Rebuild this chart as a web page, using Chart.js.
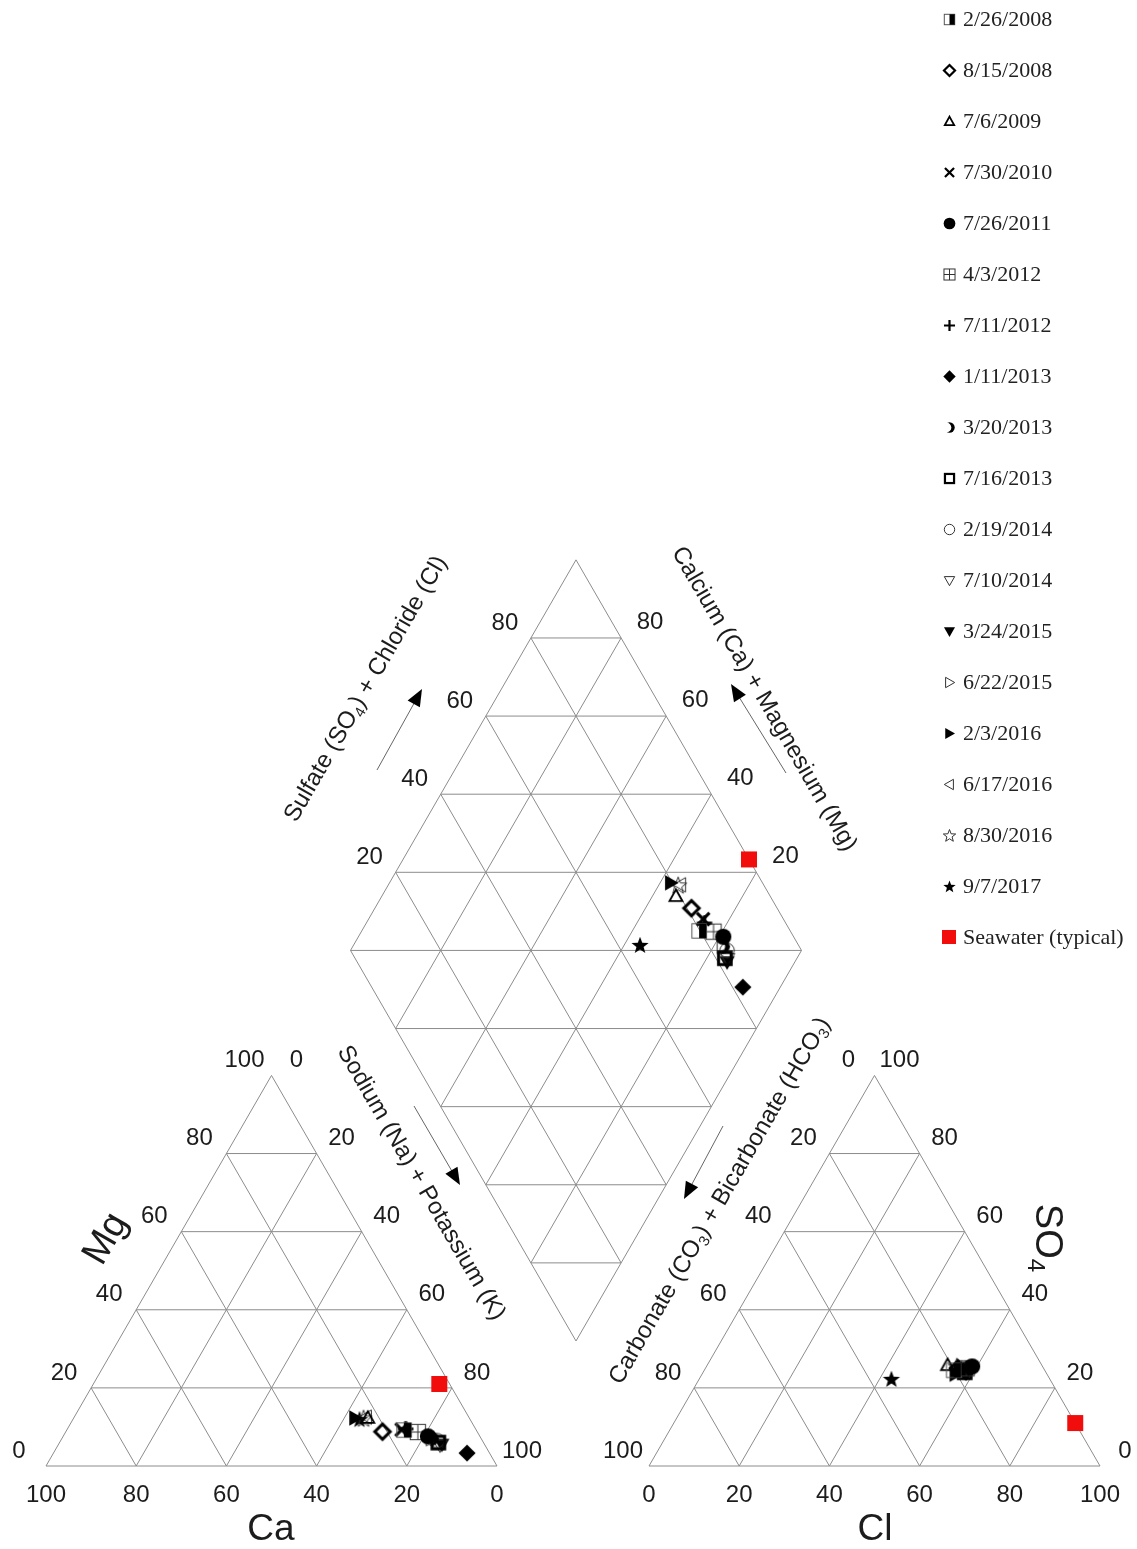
<!DOCTYPE html>
<html>
<head>
<meta charset="utf-8">
<title>Piper diagram</title>
<script src="https://cdn.jsdelivr.net/npm/chart.js@4.4.1/dist/chart.umd.min.js"></script>
<style>
  html, body { margin: 0; padding: 0; background: #fff; }
  #wrap { position: relative; width: 1137px; height: 1549px; overflow: hidden; }
  #piper { position: absolute; left: 0; top: 0; }
  #legend { position: absolute; left: 0; top: 0; font-family: "Liberation Serif", "Times New Roman", serif; font-size: 22px; color: #222; }
  .item { position: absolute; left: 940px; height: 26px; line-height: 26px; white-space: nowrap; }
  .item canvas { position: absolute; left: 0; top: 4px; }
  .item span { position: absolute; left: 23px; top: 0; }
</style>
</head>
<body>
<div id="wrap">
  <canvas id="piper" width="1137" height="1549"></canvas>
  <div id="legend"></div>
</div>
<script>
// sampling dates, legend order
const dates = ['2/26/2008', '8/15/2008', '7/6/2009', '7/30/2010', '7/26/2011', '4/3/2012', '7/11/2012',
  '1/11/2013', '3/20/2013', '7/16/2013', '2/19/2014', '7/10/2014', '3/24/2015', '6/22/2015',
  '2/3/2016', '6/17/2016', '8/30/2016', '9/7/2017', 'Seawater (typical)'];
const markers = ['halfSquare', 'diamondOpen', 'triangleOpen', 'cross', 'circle', 'gridSquare', 'plus',
  'diamond', 'crescent', 'squareOpen', 'circleOpen', 'triangleDownOpen', 'triangleDown', 'triangleRightOpen',
  'triangleRight', 'triangleLeftOpen', 'starOpen', 'star', 'square'];

// % of total cations / anions (Na+K and CO3+HCO3 are the remainder)
const calcium   = [16.0, 21.0, 22.5, 16.5, 11.5, 13.2, 15.5, 5.0, 11.0, 10.0, 10.0, 10.0, 9.5, 11.0, 25.3, 22.8, 23.5, 24.5, 2.3];
const magnesium = [9.2, 8.8, 12.3, 9.3, 7.6, 8.7, 9.5, 3.3, 7.0, 6.0, 6.5, 5.3, 5.5, 7.0, 12.3, 12.5, 12.2, 12.0, 21.0];
const sulfate   = [24.5, 25.0, 25.8, 25.0, 25.5, 25.0, 24.5, 24.0, 25.0, 24.0, 25.0, 24.5, 24.0, 25.0, 23.5, 25.0, 25.5, 22.3, 11.0];
const chloride  = [55.3, 56.0, 53.3, 57.2, 58.9, 57.9, 57.5, 58.3, 58.0, 58.0, 58.5, 58.0, 58.0, 58.0, 56.2, 56.5, 55.5, 42.6, 89.0];

const gridSteps = [20, 40, 60, 80];
const tickValues = [0, 20, 40, 60, 80, 100];

// layout: 100 % along a side = 451 px
const H = Math.sqrt(3) / 2;
const PX = 4.51;
const ORIGIN_X = 46, ORIGIN_Y = 1466;
const ANION_X0 = (649 - ORIGIN_X) / PX;
const DIA_X0 = (576 - ORIGIN_X) / PX, DIA_Y0 = (ORIGIN_Y - 1341) / PX;

const SANS = '"Liberation Sans", Arial, Helvetica, sans-serif';
const INK = '#1c1c1c';
const GRID = '#8c8c8c';

const catPt = (ca, mg) => ({ x: 100 - ca - mg / 2, y: mg * H });
const aniPt = (so4, cl) => ({ x: ANION_X0 + cl + so4 / 2, y: so4 * H });
const diaPt = (p, q) => ({ x: DIA_X0 + (p - q) / 2, y: DIA_Y0 + (p + q) * H });

function makeMarker(kind, size) {
  const n = Math.ceil(size) + 6;
  const c = document.createElement('canvas');
  c.width = n; c.height = n;
  const g = c.getContext('2d');
  const m = n / 2, r = size / 2;
  const thick = Math.max(2, size * 0.17);
  g.strokeStyle = '#000'; g.fillStyle = '#000'; g.lineWidth = thick;
  const path = pts => {
    g.beginPath();
    pts.forEach(([a, b], k) => (k ? g.lineTo : g.moveTo).call(g, m + a * r, m + b * r));
    g.closePath();
  };
  const thin = () => { g.lineWidth = 1; g.strokeStyle = '#333'; };
  const star = [];
  for (let k = 0; k < 10; k++) {
    const a = -Math.PI / 2 + k * Math.PI / 5, rr = k % 2 ? 0.42 : 1;
    star.push([rr * Math.cos(a), rr * Math.sin(a) + 0.08]);
  }
  switch (kind) {
    case 'halfSquare':
      g.lineWidth = 1; g.strokeStyle = '#555';
      g.strokeRect(m - 0.8 * r, m - 0.8 * r, 1.6 * r, 1.6 * r);
      g.fillRect(m, m - 0.8 * r, 0.8 * r, 1.6 * r);
      break;
    case 'diamondOpen':
      path([[0, -0.85], [0.85, 0], [0, 0.85], [-0.85, 0]]); g.stroke(); break;
    case 'triangleOpen':
      g.lineWidth = 1.8; path([[0, -0.75], [0.72, 0.55], [-0.72, 0.55]]); g.stroke(); break;
    case 'cross':
      g.beginPath();
      g.moveTo(m - 0.7 * r, m - 0.7 * r); g.lineTo(m + 0.7 * r, m + 0.7 * r);
      g.moveTo(m + 0.7 * r, m - 0.7 * r); g.lineTo(m - 0.7 * r, m + 0.7 * r);
      g.stroke(); break;
    case 'circle':
      g.beginPath(); g.arc(m, m, 0.9 * r, 0, 2 * Math.PI); g.fill(); break;
    case 'gridSquare':
      thin();
      g.strokeRect(m - 0.85 * r, m - 0.85 * r, 1.7 * r, 1.7 * r);
      g.beginPath();
      g.moveTo(m, m - 0.85 * r); g.lineTo(m, m + 0.85 * r);
      g.moveTo(m - 0.85 * r, m); g.lineTo(m + 0.85 * r, m);
      g.stroke(); break;
    case 'plus':
      g.beginPath();
      g.moveTo(m - 0.85 * r, m); g.lineTo(m + 0.85 * r, m);
      g.moveTo(m, m - 0.85 * r); g.lineTo(m, m + 0.85 * r);
      g.stroke(); break;
    case 'diamond':
      path([[0, -0.95], [0.95, 0], [0, 0.95], [-0.95, 0]]); g.fill(); break;
    case 'crescent':
      g.beginPath(); g.arc(m, m, 0.8 * r, 0, 2 * Math.PI); g.fill();
      g.globalCompositeOperation = 'destination-out';
      g.beginPath(); g.arc(m - 0.5 * r, m, 0.78 * r, 0, 2 * Math.PI); g.fill();
      g.globalCompositeOperation = 'source-over';
      break;
    case 'squareOpen':
      g.strokeRect(m - 0.7 * r, m - 0.7 * r, 1.4 * r, 1.4 * r); break;
    case 'circleOpen':
      thin(); g.beginPath(); g.arc(m, m, 0.8 * r, 0, 2 * Math.PI); g.stroke(); break;
    case 'triangleDownOpen':
      thin(); path([[-0.8, -0.6], [0.8, -0.6], [0, 0.8]]); g.stroke(); break;
    case 'triangleDown':
      path([[-0.85, -0.65], [0.85, -0.65], [0, 0.85]]); g.fill(); break;
    case 'triangleRightOpen':
      thin(); path([[-0.6, -0.8], [0.8, 0], [-0.6, 0.8]]); g.stroke(); break;
    case 'triangleRight':
      path([[-0.65, -0.85], [0.85, 0], [-0.65, 0.85]]); g.fill(); break;
    case 'triangleLeftOpen':
      thin(); path([[0.6, -0.8], [-0.8, 0], [0.6, 0.8]]); g.stroke(); break;
    case 'starOpen':
      thin(); path(star); g.stroke(); break;
    case 'star':
      path(star); g.fill(); break;
    case 'square':
      g.fillStyle = '#f20d0d';
      g.fillRect(m - r, m - r, 2 * r, 2 * r); break;
  }
  return c;
}

// ternary grid lines, broken with null points
const BREAK = { x: null, y: null };
const catGrid = [], aniGrid = [], diaGrid = [];
const seg = (arr, a, b) => arr.push(a, b, BREAK);
[0, ...gridSteps].forEach(v => {
  seg(catGrid, catPt(100 - v, v), catPt(0, v));          // Mg = v
  seg(catGrid, catPt(v, 0), catPt(v, 100 - v));          // Ca = v
  seg(catGrid, catPt(100 - v, 0), catPt(0, 100 - v));    // Na+K = v
  seg(aniGrid, aniPt(v, 0), aniPt(v, 100 - v));          // SO4 = v
  seg(aniGrid, aniPt(0, v), aniPt(100 - v, v));          // Cl = v
  seg(aniGrid, aniPt(100 - v, 0), aniPt(0, 100 - v));    // CO3+HCO3 = v
});
[0, ...gridSteps, 100].forEach(v => {
  seg(diaGrid, diaPt(v, 0), diaPt(v, 100));
  seg(diaGrid, diaPt(0, v), diaPt(100, v));
});
[...gridSteps, 100, ...gridSteps.map(v => v + 100)].forEach(s => {
  if (s <= 100) seg(diaGrid, diaPt(s, 0), diaPt(0, s));
  else seg(diaGrid, diaPt(100, s - 100), diaPt(s - 100, 100));
});

const gridSets = [catGrid, aniGrid, diaGrid].map(d => ({
  label: 'grid', data: d, showLine: true, spanGaps: false, pointRadius: 0,
  borderColor: GRID, borderWidth: 1, fill: false, order: 5
}));

const sampleSets = dates.map((d, i) => {
  const q = calcium[i] + magnesium[i];
  const p = sulfate[i] + chloride[i];
  const sea = markers[i] === 'square';
  return {
    label: d,
    data: [catPt(calcium[i], magnesium[i]), aniPt(sulfate[i], chloride[i]), diaPt(p, q)],
    pointStyle: makeMarker(markers[i], sea ? 16 : 18),
    legendStyle: makeMarker(markers[i], sea ? 14 : 13),
    pointRadius: 8, showLine: false, order: 1
  };
});

// axis titles and arrows (page pixels)
const titles = [
  { parts: [['Sulfate (SO'], ['4', 1], [') + Chloride (Cl)']], x: 366, y: 689, rot: -60, size: 24 },
  { parts: [['Calcium (Ca) + Magnesium (Mg)']], x: 764, y: 699, rot: 60, size: 24 },
  { parts: [['Sodium (Na) + Potassium (K)']], x: 421, y: 1183, rot: 60, size: 24 },
  { parts: [['Carbonate (CO'], ['3', 1], [') + Bicarbonate (HCO'], ['3', 1], [')']], x: 720, y: 1201, rot: -60, size: 24 },
  { parts: [['Ca']], x: 271, y: 1530, rot: 0, size: 37 },
  { parts: [['Cl']], x: 875, y: 1530, rot: 0, size: 37 },
  { parts: [['Mg']], x: 106, y: 1239, rot: -60, size: 38 },
  { parts: [['SO'], ['4', 1]], x: 1046, y: 1238, rot: 90, size: 38 }
];
const arrows = [[377, 770, 422, 689], [786, 773, 731, 684], [414, 1106, 460, 1185], [723, 1126, 684, 1199]];

function richText(ctx, t) {
  const big = `${t.size}px ${SANS}`, small = `${Math.round(t.size * 0.62)}px ${SANS}`;
  const widths = t.parts.map(([s, sub]) => { ctx.font = sub ? small : big; return ctx.measureText(s).width; });
  const total = widths.reduce((a, b) => a + b, 0);
  ctx.save();
  ctx.translate(t.x, t.y);
  ctx.rotate(t.rot * Math.PI / 180);
  ctx.textAlign = 'left'; ctx.textBaseline = 'middle';
  let cx = -total / 2;
  t.parts.forEach(([s, sub], k) => {
    ctx.font = sub ? small : big;
    ctx.fillText(s, cx, sub ? t.size * 0.3 : 0);
    cx += widths[k];
  });
  ctx.restore();
}

const piperLabels = {
  id: 'piperLabels',
  afterDraw(chart) {
    const { ctx, scales: { x, y } } = chart;
    ctx.save();
    ctx.fillStyle = INK;
    ctx.font = `24px ${SANS}`;
    ctx.textAlign = 'center';
    ctx.textBaseline = 'middle';
    const put = (txt, pt, dx, dy) =>
      ctx.fillText(txt, x.getPixelForValue(pt.x) + dx, y.getPixelForValue(pt.y) + dy);
    tickValues.forEach(v => {
      const t = String(v);
      put(t, catPt(v, 0), 0, 29);
      put(t, catPt(100 - v, v), -27, -15);
      put(t, catPt(0, 100 - v), 25, -15);
      put(t, aniPt(0, v), 0, 29);
      put(t, aniPt(v, 100 - v), 25, -15);
      put(t, aniPt(100 - v, 0), -26, -15);
    });
    gridSteps.forEach(v => {
      put(String(v), diaPt(v, 100), -26, -15);
      put(String(v), diaPt(100, v), 29, -16);
    });
    titles.forEach(t => richText(ctx, t));

    arrows.forEach(([x0, y0, x1, y1]) => {
      const len = Math.hypot(x1 - x0, y1 - y0);
      const ux = (x1 - x0) / len, uy = (y1 - y0) / len;
      ctx.strokeStyle = '#666'; ctx.lineWidth = 1;
      ctx.beginPath(); ctx.moveTo(x0, y0); ctx.lineTo(x1 - ux * 14, y1 - uy * 14); ctx.stroke();
      ctx.fillStyle = '#000';
      ctx.beginPath();
      ctx.moveTo(x1, y1);
      ctx.lineTo(x1 - ux * 17 - uy * 7, y1 - uy * 17 + ux * 7);
      ctx.lineTo(x1 - ux * 17 + uy * 7, y1 - uy * 17 - ux * 7);
      ctx.closePath(); ctx.fill();
    });
    ctx.restore();
  }
};

const chart = new Chart(document.getElementById('piper'), {
  type: 'scatter',
  data: { datasets: [...gridSets, ...sampleSets] },
  options: {
    responsive: false,
    animation: false,
    devicePixelRatio: 1,
    events: [],
    layout: { padding: 0, autoPadding: false },
    plugins: { legend: { display: false }, tooltip: { enabled: false } },
    scales: {
      x: { type: 'linear', bounds: 'data', min: -ORIGIN_X / PX, max: (1137 - ORIGIN_X) / PX, display: false },
      y: { type: 'linear', bounds: 'data', min: -(1549 - ORIGIN_Y) / PX, max: ORIGIN_Y / PX, display: false }
    }
  },
  plugins: [piperLabels]
});

// legend, built from the sample datasets
const legendBox = document.getElementById('legend');
chart.data.datasets.filter(ds => ds.order === 1).forEach((ds, i) => {
  const row = document.createElement('div');
  row.className = 'item';
  row.style.top = (19 + 51 * i - 13) + 'px';
  const mk = ds.legendStyle;
  mk.style.left = (9 - mk.width / 2) + 'px';
  mk.style.top = (13 - mk.height / 2) + 'px';
  const label = document.createElement('span');
  label.textContent = ds.label;
  row.appendChild(mk);
  row.appendChild(label);
  legendBox.appendChild(row);
});
</script>
</body>
</html>
